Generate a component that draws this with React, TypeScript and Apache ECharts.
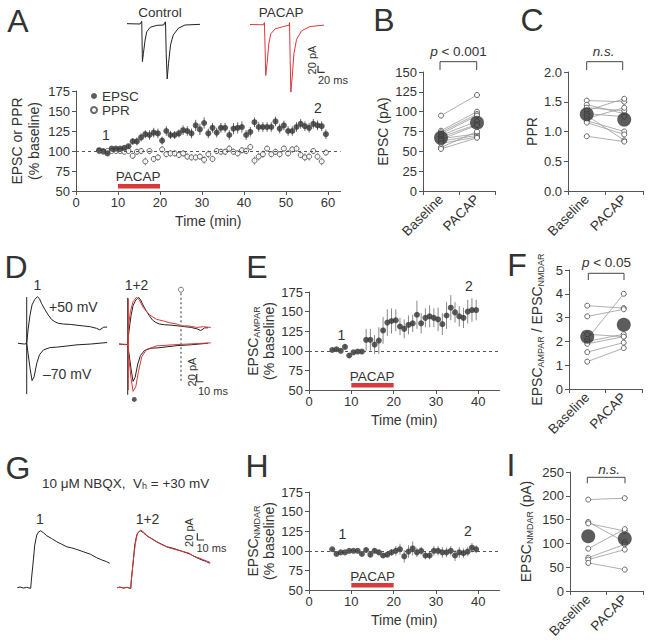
import React, { useEffect, useRef } from 'react';
import * as echarts from 'echarts';

const FONT = '"Liberation Sans", Arial, Helvetica, sans-serif';
const INK = '#333';
const AXIS = '#555';
const RED = '#d9393a';

// ---------- Panel A (time course, 1-min bins) ----------
const TIME_A = [5.5, 6.5, 7.5, 8.5, 9.5, 10.5, 11.5, 12.5, 13.5, 14.5,
  15.5, 16.5, 17.5, 18.5, 19.5, 20.5, 21.5, 22.5, 23.5, 24.5,
  25.5, 26.5, 27.5, 28.5, 29.5, 30.5, 31.5, 32.5, 33.5, 34.5,
  35.5, 36.5, 37.5, 38.5, 39.5, 40.5, 41.5, 42.5, 43.5, 44.5,
  45.5, 46.5, 47.5, 48.5, 49.5, 50.5, 51.5, 52.5, 53.5, 54.5,
  55.5, 56.5, 57.5, 58.5, 59.5];
const EPSC_A = [101, 100, 97, 103, 103, 103, 104, 106, 112, 112,
  117, 121, 120, 123, 122, 113, 125, 120, 120, 122,
  126, 125, 122, 132, 127, 135, 122, 129, 123, 129,
  129, 120, 128, 129, 130, 120, 124, 136, 130, 130,
  130, 130, 137, 128, 132, 125, 125, 130, 134, 131,
  129, 134, 132, 131, 121];
const EPSC_A_ERR = [1, 1, 1, 1, 1, 1, 1, 2, 4, 5,
  5, 5, 6, 6, 6, 5, 6, 5, 5, 5,
  6, 6, 6, 7, 7, 7, 6, 6, 6, 6,
  6, 6, 7, 7, 7, 6, 6, 6, 6, 6,
  6, 6, 6, 6, 6, 6, 6, 6, 6, 6,
  6, 6, 6, 6, 6];
const PPR_A = [100, 99, 100, 100, 100, 100, 99, 100, 94, 99,
  100, 87, 100, 90, 92, 102, 96, 97, 97, 95,
  97, 93, 92, 92, 93, 89, 96, 90, 100, 99,
  99, 103, 99, 97, 101, 100, 105, 88, 93, 96,
  103, 96, 99, 96, 103, 97, 102, 103, 95, 92,
  93, 100, 93, 87, 98];
const PPR_A_ERR = [1, 1, 1, 1, 1, 1, 1, 1, 4, 4,
  4, 5, 4, 4, 4, 4, 4, 4, 4, 4,
  4, 4, 4, 4, 4, 5, 5, 4, 4, 4,
  4, 4, 4, 4, 4, 4, 4, 5, 5, 5,
  4, 4, 4, 4, 4, 4, 4, 4, 4, 5,
  5, 4, 4, 5, 4];

// ---------- Panel E / H (time course) ----------
const TIME_EH = [5.5, 6.5, 7.5, 8.5, 9.5, 10.5, 11.5, 12.5, 13.5, 14.5,
  15.5, 16.5, 17.5, 18.5, 19.5, 20.5, 21.5, 22.5, 23.5, 24.5,
  25.5, 26.5, 27.5, 28.5, 29.5, 30.5, 31.5, 32.5, 33.5, 34.5,
  35.5, 36.5, 37.5, 38.5, 39.5];
const AMPAR_E = [101, 102, 100, 105, 94, 98, 99, 99, 114, 114,
  108, 113, 126, 136, 138, 139, 131, 128, 133, 135,
  146, 135, 142, 144, 142, 140, 134, 145, 155, 149,
  144, 142, 150, 152, 152];
const AMPAR_E_ERR = [2, 2, 2, 3, 3, 2, 2, 2, 14, 14,
  12, 17, 17, 17, 16, 14, 11, 12, 12, 11,
  18, 13, 12, 14, 12, 15, 14, 17, 16, 13,
  13, 13, 15, 15, 13];
const NMDAR_H = [102, 96, 98, 98, 100, 100, 100, 96, 101, 95,
  100, 98, 94, 95, 98, 100, 102, 93, 99, 103,
  98, 100, 94, 94, 100, 100, 98, 98, 100, 94,
  98, 97, 99, 104, 102];
const NMDAR_H_ERR = [1, 1, 1, 1, 1, 1, 1, 2, 3, 3,
  3, 3, 3, 3, 4, 6, 7, 8, 8, 9,
  6, 5, 5, 5, 6, 6, 7, 6, 6, 7,
  7, 6, 6, 6, 5];

// PACAP application window (min) and its marker level (% baseline)
const PACAP_WINDOW = [10, 20];
const PACAP_LEVEL = 56;

// ---------- Paired panels ----------
const CATS = ['Baseline', 'PACAP'];
const B_BASE = [95, 76, 74, 72, 70, 68, 66, 65, 63, 60, 55, 53];
const B_PACAP = [121, 100, 97, 95, 88, 84, 72, 83, 70, 68, 75, 67];
const B_MEAN = [67, 86];
const C_BASE = [1.52, 1.45, 1.40, 1.35, 1.30, 1.27, 1.22, 1.18, 1.15, 0.92];
const C_PACAP = [1.50, 1.30, 1.35, 1.55, 1.25, 0.85, 1.40, 1.00, 0.95, 0.83];
const C_MEAN = [1.29, 1.2];
const F_BASE = [3.5, 3.05, 2.3, 2.1, 2.0, 1.9, 1.55, 1.15];
const F_PACAP = [3.4, 3.35, 2.2, 4.0, 2.3, 2.2, 1.95, 1.72];
const F_MEAN = [2.2, 2.7];
const I_BASE = [192, 145, 142, 89, 70, 66, 59];
const I_PACAP = [195, 103, 126, 130, 98, 87, 45];
const I_MEAN = [115, 110];

// ---------- Example traces [ms, pA] ----------
const A_CONTROL = [[0, 1], [39, 0], [44, 8], [46, -112], [49, -88], [54, -48], [59, -23], [69, -10], [89, -4], [110, -3], [112, 4], [115, 6], [117, -88], [120, -164], [124, -117], [130, -62], [138, -33], [153, -13], [173, -3], [218, -1]];
const A_PACAP = [[0, 0], [40, -1], [43, 6], [45, -67], [47, -152], [51, -117], [56, -58], [62, -28], [75, -13], [100, -6], [117, -2], [118, 6], [120, -107], [122, -202], [126, -157], [131, -88], [139, -44], [154, -19], [179, -6], [221, -2]];
const D_P50 = [[13, 0], [15, 35], [18, 74], [21, 100], [25, 114], [29, 121], [32, 116], [35, 104], [40, 88], [45, 74], [50, 62], [55, 56], [60, 52], [68, 50], [78, 49], [88, 47], [98, 45], [108, 43], [117, 39], [122, 35], [128, 42], [133, 42]];
const D_M70 = [[0, 0], [10, -2], [13, 0], [15, -26], [18, -65], [21, -97], [24, -87], [28, -52], [32, -30], [38, -17], [48, -11], [58, -10], [73, -7], [88, -4], [108, -2], [133, 2]];
const D_ART = [[13, 120], [13, -132]];
const D_P50_PACAP = [[13, 0], [14, 45], [17, 84], [21, 110], [26, 121], [30, 116], [36, 95], [46, 75], [56, 64], [66, 60], [76, 55], [86, 52], [94, 47], [104, 47], [116, 43], [126, 45], [137, 43]];
const D_M70_PACAP = [[0, 0], [11, -1], [13, 0], [15, -42], [18, -89], [21, -123], [25, -111], [29, -72], [34, -33], [41, -14], [56, -5], [81, -2], [137, 3]];
const D_ART_PACAP = [[14, 118], [14, -120]];
const G_1 = [[0, 0], [4, 2], [9, -1], [14, 1], [20, -2], [21, 23], [24, 83], [26, 127], [29, 157], [32, 167], [35, 170], [39, 164], [44, 155], [51, 147], [59, 137], [66, 130], [74, 122], [81, 119], [89, 114], [99, 107], [109, 100], [118, 90], [126, 83], [133, 78], [138, 73]];
const G_2 = [[0, 0], [4, 1], [10, -1], [15, 1], [20, -2], [21, 23], [24, 83], [27, 132], [30, 162], [35, 172], [40, 165], [46, 152], [56, 140], [66, 129], [76, 120], [86, 114], [96, 109], [106, 104], [113, 95], [123, 88], [139, 75]];
// annotation marks in trace units
const D_DOT_T = 92.5; const D_DOT_TOP = 132; const D_DOT_BOT = -98; const D_OPEN_MARK = 141;
const D_FILLED_MARK = [22.8, -144];
const SB_A = { t: 203, pA: -143, dt: 20, dpA: 20 };
const SB_D = { t: 116, pA: -98, dt: 10, dpA: 20 };
const SB_G = { t: 119.4, pA: 142.4, dt: 10, dpA: 20 };

function buildOption() {
  const grid: any[] = [];
  const xAxis: any[] = [];
  const yAxis: any[] = [];
  const series: any[] = [];
  const graphic: any[] = [];

  const add = (g: any, xa: any, ya: any) => {
    const i = grid.length;
    grid.push({ ...g, containLabel: false });
    xAxis.push({ ...xa, gridIndex: i });
    yAxis.push({ ...ya, gridIndex: i });
    return i;
  };
  const axisLine = { show: true, onZero: false, lineStyle: { color: AXIS, width: 1 } };
  const axisTick = { show: true, length: 4, lineStyle: { color: AXIS } };
  const lab = { color: INK, fontSize: 13, fontFamily: FONT };
  const nameStyle = {
    color: INK, fontSize: 14, fontFamily: FONT, lineHeight: 17,
    rich: {
      m: { color: INK, fontSize: 14, fontFamily: FONT, lineHeight: 16 },
      s: { color: INK, fontSize: 9, fontFamily: FONT, lineHeight: 9, verticalAlign: 'bottom' },
    },
  };
  const vAxis = (min: number, max: number, interval: number, extra: any = {}) => ({
    type: 'value', min, max, interval, axisLine, axisTick,
    axisLabel: { ...lab, margin: 6 }, splitLine: { show: false }, ...extra,
  });
  const timeAxis = (max: number) => vAxis(0, max, 10, {
    axisLabel: { ...lab, margin: 5, showMaxLabel: false },
    name: 'Time (min)', nameLocation: 'middle', nameGap: 21, nameTextStyle: nameStyle,
  });
  const yName = (name: string, gap: number) => ({ name, nameLocation: 'middle', nameGap: gap, nameTextStyle: nameStyle });
  const catAxis = () => ({
    type: 'category', data: CATS, boundaryGap: true, axisLine,
    axisTick: { show: true, length: 4, alignWithLabel: false, lineStyle: { color: AXIS } },
    axisLabel: { ...lab, fontSize: 13.5, rotate: 45, margin: 6 },
  });
  const hidden = (min: number, max: number) => ({ type: 'value', min, max, show: false });
  const traceGrid = (x0: number, y0: number, tMax: number, pxMs: number, pAmin: number, pAmax: number, pxPA: number) =>
    add({ left: x0, top: y0 - pAmax * pxPA, width: tMax * pxMs, height: (pAmax - pAmin) * pxPA }, hidden(0, tMax), hidden(pAmin, pAmax));
  const line = (gi: number, data: any[], color: string, extra: any = {}) => ({
    type: 'line', xAxisIndex: gi, yAxisIndex: gi, data, symbol: 'none', showSymbol: false, clip: false, silent: true,
    lineStyle: { color, width: 1 }, ...extra,
  });
  const errBars = (gi: number, xs: number[], ys: number[], es: number[], color: string) => ({
    type: 'custom', xAxisIndex: gi, yAxisIndex: gi, silent: true, z: 1,
    data: xs.map((x, i) => [x, ys[i] - es[i], ys[i] + es[i]]),
    renderItem: (_p: any, api: any) => {
      const lo = api.coord([api.value(0), api.value(1)]);
      const hi = api.coord([api.value(0), api.value(2)]);
      return { type: 'line', shape: { x1: lo[0], y1: lo[1], x2: hi[0], y2: hi[1] }, style: { stroke: color, lineWidth: 1 } };
    },
  });
  const baseline100 = {
    silent: true, symbol: 'none', label: { show: false },
    lineStyle: { type: [3, 3], color: '#555', width: 1 }, data: [{ yAxis: 100 }],
  };
  const pacapBar = (gi: number) => line(gi, PACAP_WINDOW.map((t) => [t, PACAP_LEVEL]), RED, { lineStyle: { color: RED, width: 4.5 }, z: 3 });
  const scaleBar = (gi: number, sb: any) => line(gi, [[sb.t, sb.pA + sb.dpA], [sb.t, sb.pA], [sb.t + sb.dt, sb.pA]], INK, { lineStyle: { color: INK, width: 1.2 } });
  const paired = (gi: number, base: number[], pac: number[], mean: number[]) => {
    base.forEach((b, i) => series.push({
      type: 'line', xAxisIndex: gi, yAxisIndex: gi, data: [[CATS[0], b], [CATS[1], pac[i]]],
      symbol: 'circle', symbolSize: 5, showSymbol: true, silent: true, z: 2,
      lineStyle: { color: '#9a9a9a', width: 0.8 },
      itemStyle: { color: '#fff', borderColor: '#555', borderWidth: 0.9 },
    }));
    series.push({
      type: 'scatter', xAxisIndex: gi, yAxisIndex: gi, data: [[CATS[0], mean[0]], [CATS[1], mean[1]]],
      symbolSize: 14, itemStyle: { color: '#333' }, z: 5, silent: true,
    });
  };

  // ---- Panel A ----
  const gA = add({ left: 76, top: 91, width: 63 * 4.2, height: 100 }, timeAxis(63),
    vAxis(50, 175, 25, yName('EPSC or PPR\n(% baseline)', 34)));
  series.push(errBars(gA, TIME_A, EPSC_A, EPSC_A_ERR, '#666'));
  series.push(errBars(gA, TIME_A, PPR_A, PPR_A_ERR, '#999'));
  series.push({
    name: 'PPR', type: 'scatter', xAxisIndex: gA, yAxisIndex: gA, symbol: 'circle', symbolSize: 5, silent: true, z: 3,
    data: TIME_A.map((t, i) => [t, PPR_A[i]]), itemStyle: { color: '#fff', borderColor: '#444', borderWidth: 1 },
  });
  series.push({
    name: 'EPSC', type: 'scatter', xAxisIndex: gA, yAxisIndex: gA, symbol: 'circle', symbolSize: 6, silent: true, z: 4,
    data: TIME_A.map((t, i) => [t, EPSC_A[i]]), itemStyle: { color: '#333' }, markLine: baseline100,
  });
  series.push(pacapBar(gA));

  const gAc = traceGrid(127, 24, 230, 0.335, -220, 20, 0.335);
  series.push(line(gAc, A_CONTROL, '#222'));
  const gAp = traceGrid(250, 24.5, 230, 0.335, -220, 20, 0.335);
  series.push(line(gAp, A_PACAP, RED));
  series.push(scaleBar(gAp, SB_A));

  // ---- Panel B, C ----
  const gB = add({ left: 423, top: 72, width: 72, height: 119 }, catAxis(), vAxis(0, 150, 25, yName('EPSC (pA)', 31)));
  paired(gB, B_BASE, B_PACAP, B_MEAN);
  const gC = add({ left: 568, top: 72, width: 75, height: 119 }, catAxis(),
    vAxis(0, 2, 0.5, { ...yName('PPR', 28), axisLabel: { ...lab, margin: 6, formatter: (v: number) => v.toFixed(1) } }));
  paired(gC, C_BASE, C_PACAP, C_MEAN);

  // ---- Panel D traces ----
  const gDl = traceGrid(18, 343.3, 140, 0.67, -160, 160, 0.385);
  series.push(line(gDl, D_M70, '#222'), line(gDl, D_P50, '#222'), line(gDl, D_ART, '#222'));
  const gDr = traceGrid(119, 344, 140, 0.67, -160, 160, 0.385);
  series.push(line(gDr, D_M70, '#222'), line(gDr, D_P50, '#222'), line(gDr, D_ART, '#222'));
  series.push(line(gDr, D_M70_PACAP, RED), line(gDr, D_P50_PACAP, RED), line(gDr, D_ART_PACAP, RED));
  series.push(line(gDr, [[D_DOT_T, D_DOT_TOP], [D_DOT_T, D_DOT_BOT]], '#777', { lineStyle: { color: '#777', width: 1.5, type: [2, 2.5] } }));
  series.push({
    type: 'scatter', xAxisIndex: gDr, yAxisIndex: gDr, data: [[D_DOT_T, D_OPEN_MARK]], symbolSize: 5, silent: true,
    itemStyle: { color: '#fff', borderColor: '#555', borderWidth: 1 },
  });
  series.push({
    type: 'scatter', xAxisIndex: gDr, yAxisIndex: gDr, data: [D_FILLED_MARK], symbolSize: 5, silent: true,
    itemStyle: { color: '#333' },
  });
  series.push(scaleBar(gDr, SB_D));

  // ---- Panel E ----
  const gE = add({ left: 309, top: 292, width: 45 * 4.2325, height: 98 }, timeAxis(45),
    vAxis(50, 175, 25, yName('{m|EPSC}{s|AMPAR}\n{m|(% baseline)}', 32)));
  series.push(errBars(gE, TIME_EH, AMPAR_E, AMPAR_E_ERR, '#888'));
  series.push({
    type: 'scatter', xAxisIndex: gE, yAxisIndex: gE, symbolSize: 6, silent: true, z: 4,
    data: TIME_EH.map((t, i) => [t, AMPAR_E[i]]), itemStyle: { color: '#333' }, markLine: baseline100,
  });
  series.push(pacapBar(gE));

  // ---- Panel F ----
  const gF = add({ left: 569, top: 270, width: 73, height: 119 }, catAxis(),
    vAxis(0, 5, 1, yName('{m|EPSC}{s|AMPAR}{m| / EPSC}{s|NMDAR}', 24)));
  paired(gF, F_BASE, F_PACAP, F_MEAN);

  // ---- Panel G traces ----
  const gGl = traceGrid(17.3, 587.7, 140, 0.67, -20, 190, 0.335);
  series.push(line(gGl, G_1, '#222'));
  const gGr = traceGrid(117.3, 587.7, 140, 0.67, -20, 190, 0.335);
  series.push(line(gGr, G_1, '#222'), line(gGr, G_2, RED));
  series.push(scaleBar(gGr, SB_G));

  // ---- Panel H ----
  const gH = add({ left: 309, top: 492, width: 45 * 4.2325, height: 98 }, timeAxis(45),
    vAxis(50, 175, 25, yName('{m|EPSC}{s|NMDAR}\n{m|(% baseline)}', 32)));
  series.push(errBars(gH, TIME_EH, NMDAR_H, NMDAR_H_ERR, '#888'));
  series.push({
    type: 'scatter', xAxisIndex: gH, yAxisIndex: gH, symbolSize: 6, silent: true, z: 4,
    data: TIME_EH.map((t, i) => [t, NMDAR_H[i]]), itemStyle: { color: '#333' }, markLine: baseline100,
  });
  series.push(pacapBar(gH));

  // ---- Panel I ----
  const gI = add({ left: 570, top: 472, width: 73, height: 119 }, catAxis(),
    vAxis(0, 250, 50, yName('{m|EPSC}{s|NMDAR}{m| (pA)}', 36)));
  paired(gI, I_BASE, I_PACAP, I_MEAN);

  // ---- Text annotations ----
  const txt = (x: number, y: number, text: string, size = 13.5, extra: any = {}, el: any = {}) => ({
    type: 'text', x, y, silent: true, ...el,
    style: { text, fill: INK, fontSize: size, fontFamily: FONT, textAlign: 'center', textVerticalAlign: 'middle', ...extra },
  });
  const rot = { rotation: Math.PI / 2 };
  [['A', 18, 21], ['B', 384, 20], ['C', 532, 20], ['D', 16, 267], ['E', 257, 267], ['F', 517, 265],
    ['G', 18, 468], ['H', 257, 466], ['I', 511, 465]].forEach(([l, x, y]) => graphic.push(txt(x as number, y as number, l as string, 32)));
  graphic.push(txt(160, 12.5, 'Control'), txt(281, 12.5, 'PACAP'));
  graphic.push(txt(311.5, 60, '20 pA', 11, {}, rot), txt(318, 80, '20 ms', 11, { textAlign: 'left' }));
  graphic.push(txt(106, 135, '1', 14), txt(318, 108, '2', 14), txt(138, 176.5, 'PACAP'));
  graphic.push(txt(341.5, 335, '1', 14), txt(469, 286, '2', 14), txt(372, 376, 'PACAP'));
  graphic.push(txt(342.5, 534, '1', 14), txt(468, 531, '2', 14), txt(372.5, 576.5, 'PACAP'));
  graphic.push(txt(37.5, 285, '1', 14), txt(136.5, 285, '1+2', 14));
  graphic.push(txt(49, 306.5, '+50 mV', 14, { textAlign: 'left' }), txt(43, 374, '\u201370 mV', 14, { textAlign: 'left' }));
  graphic.push(txt(191.5, 372, '20 pA', 11, {}, rot), txt(198, 391, '10 ms', 11, { textAlign: 'left' }));
  graphic.push(txt(40, 519, '1', 14), txt(147.5, 519, '1+2', 14));
  graphic.push(txt(188.5, 532.5, '20 pA', 11, {}, rot), txt(196.5, 548, '10 ms', 11, { textAlign: 'left' }));
  graphic.push(txt(42, 483.5, '10 \u03bcM NBQX,  V{s|h} = +30 mV', 13.5, {
    textAlign: 'left', rich: { s: { fontSize: 9, fontFamily: FONT, fill: INK, verticalAlign: 'bottom' } },
  }));
  const italicP = { rich: { i: { fontStyle: 'italic', fontSize: 13.5, fontFamily: FONT, fill: INK } } };
  graphic.push(txt(458.5, 51.5, '{i|p} < 0.001', 13.5, italicP));
  graphic.push(txt(603.5, 51.5, 'n.s.', 13.5, { fontStyle: 'italic' }));
  graphic.push(txt(606.5, 262.5, '{i|p} < 0.05', 13.5, italicP));
  graphic.push(txt(609, 469, 'n.s.', 13.5, { fontStyle: 'italic' }));
  const bracket = (x1: number, x2: number, yTop: number, yBot: number) => ({
    type: 'polyline', silent: true,
    shape: { points: [[x1, yBot], [x1, yTop], [x2, yTop], [x2, yBot]] },
    style: { stroke: '#444', lineWidth: 1, fill: null },
  });
  graphic.push(bracket(440, 476.7, 61.7, 70), bracket(586.7, 622.7, 61.7, 70), bracket(588.3, 624, 273.3, 280), bracket(587.3, 625, 477.3, 483.3));

  return {
    animation: false,
    backgroundColor: '#fff',
    textStyle: { fontFamily: FONT },
    legend: {
      data: ['EPSC', 'PPR'], orient: 'vertical', left: 85, top: 84, itemWidth: 6, itemHeight: 6, itemGap: 0,
      selectedMode: false, textStyle: { color: INK, fontSize: 13.5, fontFamily: FONT, lineHeight: 13 },
    },
    grid, xAxis, yAxis, series, graphic,
  };
}

export default function App() {
  const ref = useRef<HTMLDivElement>(null);
  useEffect(() => {
    const chart = echarts.init(ref.current!, null, { renderer: 'svg' });
    chart.setOption(buildOption() as any);
    return () => chart.dispose();
  }, []);
  return <div ref={ref} style={{ position: 'absolute', left: 0, top: 0, width: 649, height: 644, background: '#fff' }} />;
}
